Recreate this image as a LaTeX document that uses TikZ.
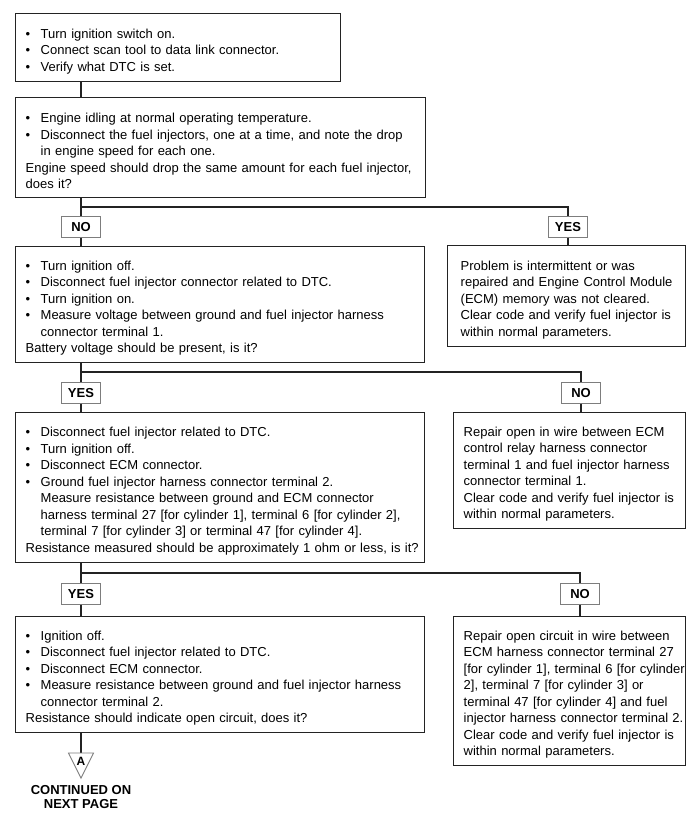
\documentclass[tikz,border=0pt]{standalone}
\usepackage{fontspec}
\setmainfont{Liberation Sans}
\usetikzlibrary{positioning}
\definecolor{boxline}{RGB}{35,35,35}
\definecolor{tagline}{RGB}{125,125,125}
% one printed line each: bullet line, hanging line, plain line
\newcommand{\bitem}[1]{\par\noindent\makebox[15pt][l]{\textbullet}\mbox{#1}}
\newcommand{\bmore}[1]{\par\noindent\hspace*{15pt}\mbox{#1}}
\newcommand{\bline}[1]{\par\noindent\mbox{#1}}
\tikzset{
  stepbox/.style={draw=boxline, line width=1.4pt, anchor=north west,
                  inner xsep=10pt, inner ysep=0pt, align=left,
                  font=\fontsize{13}{16.5}\selectfont},
  tagbox/.style={draw=tagline, fill=white, line width=0.9pt,
                 minimum width=39pt, minimum height=20.5pt, inner sep=0pt,
                 font=\fontsize{13}{15}\selectfont\bfseries},
  link/.style={draw=boxline, line width=1.3pt},
}

\begin{document}
\begin{tikzpicture}[x=1pt, y=-1pt]
\useasboundingbox (0,0) rectangle (700,823);
\fill[white] (0,0) rectangle (700,823);
% steps down the left column
\node[stepbox, text width=305pt, minimum height=68pt] (s1) at (15,13) {%
  \bitem{Turn ignition switch on.}
  \bitem{Connect scan tool to data link connector.}
  \bitem{Verify what DTC is set.}};
\node[stepbox, text width=390pt, minimum height=100pt] (s2) at (15,97) {%
  \bitem{Engine idling at normal operating temperature.}
  \bitem{Disconnect the fuel injectors, one at a time, and note the drop}
  \bmore{in engine speed for each one.}
  \bline{Engine speed should drop the same amount for each fuel injector,}
  \bline{does it?}};
\node[stepbox, text width=389pt, minimum height=116pt] (s3) at (15,246) {%
  \bitem{Turn ignition off.}
  \bitem{Disconnect fuel injector connector related to DTC.}
  \bitem{Turn ignition on.}
  \bitem{Measure voltage between ground and fuel injector harness}
  \bmore{connector terminal 1.}
  \bline{Battery voltage should be present, is it?}};
\node[stepbox, text width=389pt, minimum height=150pt] (s4) at (15,412) {%
  \bitem{Disconnect fuel injector related to DTC.}
  \bitem{Turn ignition off.}
  \bitem{Disconnect ECM connector.}
  \bitem{Ground fuel injector harness connector terminal 2.}
  \bmore{Measure resistance between ground and ECM connector}
  \bmore{harness terminal 27 [for cylinder 1], terminal 6 [for cylinder 2],}
  \bmore{terminal 7 [for cylinder 3] or terminal 47 [for cylinder 4].}
  \bline{Resistance measured should be approximately 1 ohm or less, is it?}};
\node[stepbox, text width=389pt, minimum height=116pt] (s5) at (15,616) {%
  \bitem{Ignition off.}
  \bitem{Disconnect fuel injector related to DTC.}
  \bitem{Disconnect ECM connector.}
  \bitem{Measure resistance between ground and fuel injector harness}
  \bmore{connector terminal 2.}
  \bline{Resistance should indicate open circuit, does it?}};
% results down the right column
\node[stepbox, inner xsep=13pt, text width=212pt, minimum height=101pt] (r1) at (447,245) {%
  \bline{Problem is intermittent or was}
  \bline{repaired and Engine Control Module}
  \bline{(ECM) memory was not cleared.}
  \bline{Clear code and verify fuel injector is}
  \bline{within normal parameters.}};
\node[stepbox, text width=212pt, minimum height=116pt] (r2) at (453,412) {%
  \bline{Repair open in wire between ECM}
  \bline{control relay harness connector}
  \bline{terminal 1 and fuel injector harness}
  \bline{connector terminal 1.}
  \bline{Clear code and verify fuel injector is}
  \bline{within normal parameters.}};
\node[stepbox, text width=212pt, minimum height=149pt] (r3) at (453,616) {%
  \bline{Repair open circuit in wire between}
  \bline{ECM harness connector terminal 27}
  \bline{[for cylinder 1], terminal 6 [for cylinder}
  \bline{2], terminal 7 [for cylinder 3] or}
  \bline{terminal 47 [for cylinder 4] and fuel}
  \bline{injector harness connector terminal 2.}
  \bline{Clear code and verify fuel injector is}
  \bline{within normal parameters.}};
% answer tags
\node[tagbox] (t1no)  at (81,227)  {NO};
\node[tagbox] (t1yes) at (568,227) {YES};
\node[tagbox] (t2yes) at (81,393)  {YES};
\node[tagbox] (t2no)  at (581,393) {NO};
\node[tagbox] (t3yes) at (81,594)  {YES};
\node[tagbox] (t3no)  at (580,594) {NO};
\coordinate (j1) at (81,207);
\coordinate (j2) at (81,372);
\coordinate (j3) at (81,573);
% connectors
\draw[link] (s1.south -| t1no) -- (s2.north -| t1no);
\draw[link] (s2.south -| t1no) -- (t1no.north);
\draw[link] (t1no.south) -- (s3.north -| t1no);
\draw[link] (j1) -| (t1yes.north);
\draw[link] (t1yes.south) -- (r1.north -| t1yes);
\draw[link] (s3.south -| t2yes) -- (t2yes.north);
\draw[link] (t2yes.south) -- (s4.north -| t2yes);
\draw[link] (j2) -| (t2no.north);
\draw[link] (t2no.south) -- (r2.north -| t2no);
\draw[link] (s4.south -| t3yes) -- (t3yes.north);
\draw[link] (t3yes.south) -- (s5.north -| t3yes);
\draw[link] (j3) -| (t3no.north);
\draw[link] (t3no.south) -- (r3.north -| t3no);
% off-page marker
\coordinate (tA) at (81,753);
\draw[link] (s5.south -| t3yes) -- (tA);
\draw[draw=tagline, line width=0.9pt] (tA) ++(-12.5,0) -- ++(25,0) -- ++(-12.5,25) -- cycle;
\node[font=\fontsize{12}{14}\selectfont\bfseries] (lA) at (81,761) {A};
\node[font=\fontsize{13}{14.5}\selectfont\bfseries, align=center] (cont) at (81,797) {CONTINUED ON\\NEXT PAGE};
\end{tikzpicture}
\end{document}
